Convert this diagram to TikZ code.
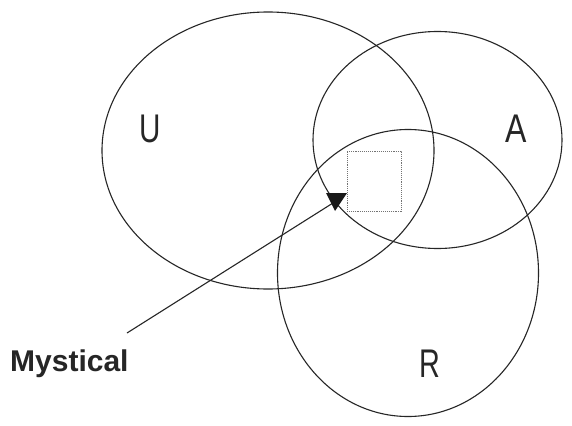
\documentclass[tikz,border=0pt]{standalone}
\usepackage{fontspec}
\setmainfont{Liberation Sans}
\usetikzlibrary{shapes.geometric}
\begin{document}
\begin{tikzpicture}[x=1pt,y=-1pt,
  venn/.style={draw=black!85, ellipse, inner sep=0pt, line width=1.1pt},
  lbl/.style={text=black!85, font=\fontsize{40}{44}\selectfont, inner sep=0pt, anchor=base},
  pointer/.style={draw=black!85, line width=1.1pt}]
\useasboundingbox[fill=white] (0,0) rectangle (572,425);
\node[venn, minimum width=332pt, minimum height=277pt] (U) at (268,150.5) {};
\node[venn, minimum width=249pt, minimum height=217pt] (A) at (437.5,140) {};
\node[venn, minimum width=261pt, minimum height=287pt] (R) at (408,273) {};
\node[lbl] (Ul) at (150.5,142) {\scalebox{0.74}[1]{U}};
\node[lbl] (Al) at (516,142) {\scalebox{0.8}[1]{A}};
\node[lbl] (Rl) at (430,377) {\scalebox{0.72}[1]{R}};
\node[draw=black!55, densely dotted, line width=0.9pt, minimum width=54pt, minimum height=60pt, inner sep=0pt] (box) at (374,181) {};
\node[anchor=base west, font=\fontsize{30}{36}\selectfont\bfseries, text=black!85, inner sep=0pt] (myst) at (10,371.5) {Mystical};
\coordinate (tail) at (127,333);
\coordinate (tip) at (333,203);
\draw[pointer] (tail) -- (tip);
\fill[black!90] (326,193) -- (347,193) -- (335,211) -- cycle;
\end{tikzpicture}
\end{document}
